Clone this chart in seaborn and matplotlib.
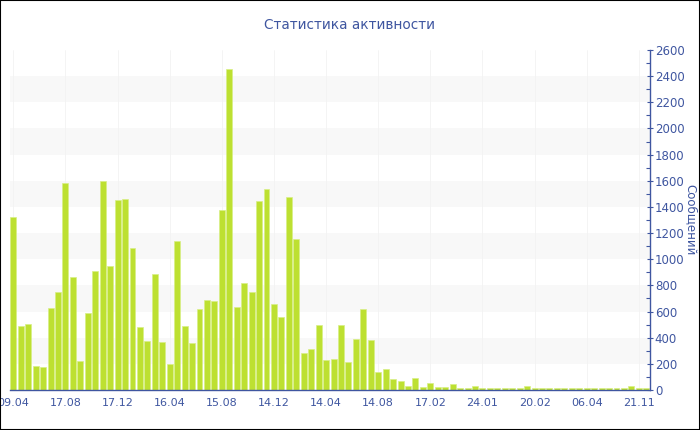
import numpy as np
import pandas as pd
import matplotlib
matplotlib.use('Agg')
import matplotlib.pyplot as plt
from matplotlib.patches import Rectangle
from matplotlib.ticker import MultipleLocator, FixedLocator
import seaborn as sns

# message counts per period
messages = [1323, 490, 506, 181, 176, 626, 751, 1581, 863, 220, 590, 907, 1601, 948,
            1453, 1461, 1088, 480, 375, 889, 370, 199, 1137, 488, 363, 621, 685, 677,
            1377, 2452, 631, 817, 748, 1448, 1540, 661, 562, 1474, 1157, 286, 317, 498, 231,
            240, 496, 215, 393, 618, 383, 138, 161, 84, 72, 33, 95, 26, 51,
            26, 26, 46, 12, 15, 31, 12, 14, 14, 12, 12, 12, 31, 14, 14,
            12, 12, 12, 12, 12, 12, 12, 12, 12, 12, 12, 33, 12, 12]
tick_labels = ['09.04', '17.08', '17.12', '16.04', '15.08', '14.12', '14.04',
               '14.08', '17.02', '24.01', '20.02', '06.04', '21.11']
tick_step = 7

title = 'Статистика активности'
ylabel = 'Сообщений'

blue = '#3f56a0'
bar_color = '#bde031'

sns.set_style('white')
plt.rcParams['font.family'] = ['DejaVu Sans']

df = pd.DataFrame({'period': list(range(len(messages))), 'count': messages})

fig = plt.figure(figsize=(7, 4.3), dpi=100)
ax = fig.add_axes([10/700, 40/430, 640/700, 340/430])

# alternating light bands
for lo in range(200, 2600, 400):
    ax.axhspan(lo, lo + 200, color='#f8f8f8', zorder=0, lw=0)

tick_pos = list(range(0, len(messages), tick_step))
for p in tick_pos:
    ax.axvline(p, color='#f3f3f3', lw=0.6, zorder=0.5)

sns.barplot(data=df, x='period', y='count', color=bar_color, width=0.8,
            edgecolor='#d8ef86', linewidth=0.5, saturation=1, ax=ax, zorder=2)

ax.set_xlim(-0.45, len(messages) - 0.5)
ax.set_ylim(0, 2600)

ax.xaxis.set_major_locator(FixedLocator(tick_pos))
ax.set_xticklabels(tick_labels)
ax.xaxis.set_minor_locator(FixedLocator(range(len(messages))))
ax.set_xlabel('')

ax.yaxis.tick_right()
ax.yaxis.set_label_position('right')
ax.yaxis.set_major_locator(MultipleLocator(200))
ax.yaxis.set_minor_locator(MultipleLocator(100))
ax.set_ylabel(ylabel, rotation=270, color=blue, fontsize=8.5, labelpad=9)

for side in ['top', 'left']:
    ax.spines[side].set_visible(False)
for side in ['right', 'bottom']:
    ax.spines[side].set_color(blue)
    ax.spines[side].set_linewidth(1)

ax.tick_params(axis='x', which='major', direction='inout', length=5, width=0.8,
               color='#666666', labelsize=8, labelcolor=blue, pad=3)
ax.tick_params(axis='x', which='minor', direction='in', length=1.5, width=0.6,
               color='#7080b0')
ax.tick_params(axis='y', which='major', direction='inout', length=5, width=0.8,
               color=blue, labelsize=8.5, labelcolor=blue, pad=1)
ax.tick_params(axis='y', which='minor', direction='in', length=3, width=0.8,
               color=blue)

fig.text(0.5, 1 - 25/430, title, ha='center', va='center', color=blue, fontsize=9.8)

fig.patches.append(Rectangle((0, 0), 1, 1, transform=fig.transFigure, fill=False,
                             edgecolor='black', lw=1.5, zorder=10))

plt.savefig('out.png', dpi=100)
